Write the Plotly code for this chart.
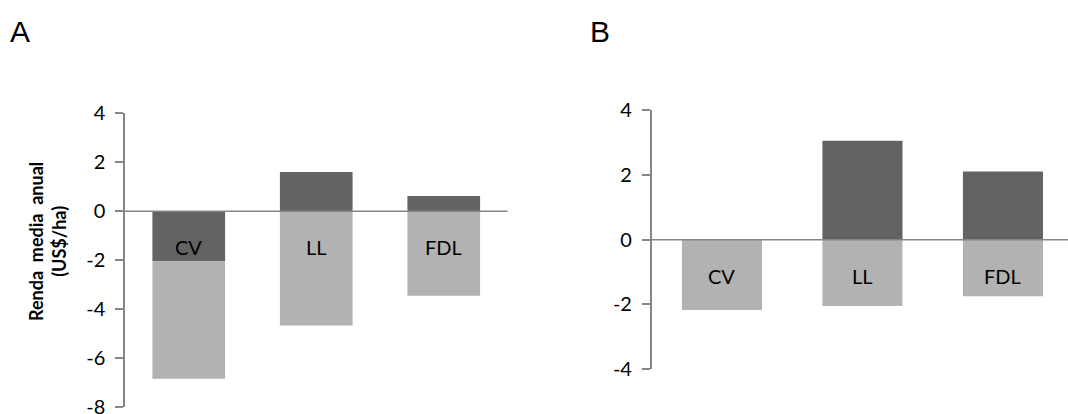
import plotly.graph_objects as go

categories = ["CV", "LL", "FDL"]
# Panel A
a_dark = [-2.05, 1.6, 0.62]
a_light = [-4.8, -4.67, -3.45]
# Panel B
b_dark = [0.0, 3.05, 2.1]
b_light = [-2.17, -2.05, -1.75]

a_ticks = [4, 2, 0, -2, -4, -6, -8]
b_ticks = [4, 2, 0, -2, -4]

DARK = "#636363"
LIGHT = "#b2b2b2"
AXIS = "#868686"
FONT = "Lato"
FS = 20

W, H = 1068, 414
fig = go.Figure()

fig.add_trace(go.Bar(x=categories, y=a_dark, marker_color=DARK, marker_line_width=0,
                     xaxis="x", yaxis="y", showlegend=False))
fig.add_trace(go.Bar(x=categories, y=a_light, marker_color=LIGHT, marker_line_width=0,
                     xaxis="x", yaxis="y", showlegend=False))
fig.add_trace(go.Bar(x=categories, y=b_dark, marker_color=DARK, marker_line_width=0,
                     xaxis="x2", yaxis="y2", showlegend=False))
fig.add_trace(go.Bar(x=categories, y=b_light, marker_color=LIGHT, marker_line_width=0,
                     xaxis="x2", yaxis="y2", showlegend=False))

yax_common = dict(showgrid=False, zeroline=False, showline=True, linecolor=AXIS, linewidth=1.5,
                  ticks="outside", ticklen=8, tickcolor=AXIS, tickwidth=1.5, automargin=False,
                  ticklabeloverflow="allow",
                  tickfont=dict(family=FONT, size=FS, color="black"), ticklabelstandoff=6)
xax_common = dict(showgrid=False, zeroline=False, showline=False, showticklabels=False,
                  ticks="", type="category", automargin=False)

fig.update_layout(
    width=W, height=H,
    margin=dict(l=0, r=0, t=0, b=0, autoexpand=False),
    paper_bgcolor="white", plot_bgcolor="white",
    barmode="relative", bargap=0.43,
    xaxis=dict(domain=[125 / W, 507.5 / W], range=[-0.5, 2.5], anchor="y", **xax_common),
    yaxis=dict(domain=[7 / H, 300.7 / H], range=[-8, 4], tickvals=a_ticks,
               ticktext=[str(t) for t in a_ticks], anchor="x", **yax_common),
    xaxis2=dict(domain=[651.7 / W, 1.0], range=[-0.5, -0.5 + (W - 651.7) / 140.5],
                anchor="y2", **xax_common),
    yaxis2=dict(domain=[44.7 / H, 304 / H], range=[-4, 4], tickvals=b_ticks,
                ticktext=[str(t) for t in b_ticks], anchor="x2", **yax_common),
)

# zero lines drawn above bars
for xr, yr in (("x domain", "y"), ("x2 domain", "y2")):
    fig.add_shape(type="line", xref=xr, yref=yr, x0=0, x1=1, y0=0, y1=0,
                  line=dict(color=AXIS, width=1.5), layer="above")

# category labels just below zero line
for xr, yr in (("x", "y"), ("x2", "y2")):
    for c in categories:
        fig.add_annotation(x=c, y=0, xref=xr, yref=yr, text=c, showarrow=False,
                           yshift=-36, font=dict(family=FONT, size=FS, color="black"))

# panel letters
fig.add_annotation(x=8 / W, y=1 - 31 / H, xref="paper", yref="paper", text="A",
                   showarrow=False, xanchor="left", yanchor="middle",
                   font=dict(family="Liberation Sans", size=30, color="black"))
fig.add_annotation(x=588 / W, y=1 - 31 / H, xref="paper", yref="paper", text="B",
                   showarrow=False, xanchor="left", yanchor="middle",
                   font=dict(family="Liberation Sans", size=30, color="black"))

# y-axis title panel A
fig.add_annotation(x=47 / W, y=1 - 242 / H, xref="paper", yref="paper",
                   text="<b>Renda&nbsp;&nbsp;media&nbsp;&nbsp;anual</b><br><b>(US$/ha)</b>",
                   showarrow=False, textangle=-90, xanchor="center", yanchor="middle",
                   font=dict(family=FONT, size=18, color="black"))

fig.write_html("out.html")
